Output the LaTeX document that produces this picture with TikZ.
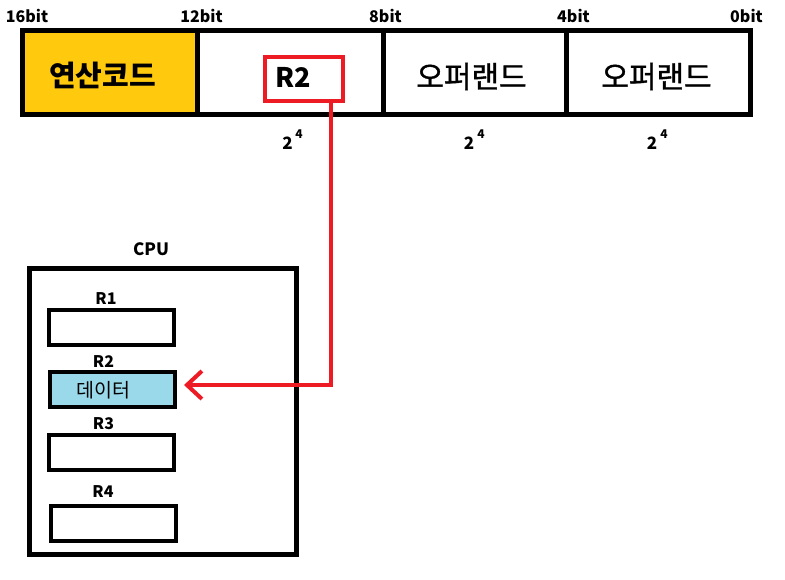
\documentclass[tikz,border=0pt]{standalone}
\usepackage{fontspec}
\setmainfont{Noto Sans CJK KR}
\newfontfamily\heavierkr[FakeBold=1.2]{Noto Sans CJK KR}
\usetikzlibrary{arrows.meta}
\definecolor{opyellow}{HTML}{FFC90E}
\definecolor{regblue}{HTML}{99D9EA}
\definecolor{linkred}{HTML}{ED1C24}
\begin{document}
\begin{tikzpicture}[x=1pt,y=-1pt,
  field/.style={draw=black,line width=5pt,minimum width=#1,minimum height=83.5pt,inner sep=0pt},
  reg/.style={draw=black,line width=4pt,minimum width=125pt,minimum height=35pt,inner sep=0pt},
  bitlbl/.style={font=\fontsize{16}{16}\selectfont\bfseries,inner sep=0pt},
  reglbl/.style={font=\fontsize{16}{16}\selectfont\bfseries,inner sep=0pt},
  bigtxt/.style={font=\fontsize{30}{30}\selectfont\heavierkr,inner sep=0pt},
  twolbl/.style={font=\fontsize{17}{17}\selectfont\bfseries,inner sep=0pt},
  fourlbl/.style={font=\fontsize{12}{12}\selectfont\bfseries,inner sep=0pt}]
\useasboundingbox (0,0) rectangle (785,580);
% instruction bar
\node[field=174.5pt,fill=opyellow] (f1) at (109.75,72.75) {};
\node[field=186pt] (f2) at (290,72.75) {};
\node[field=183.5pt] (f3) at (474.75,72.75) {};
\node[field=183.5pt] (f4) at (658.25,72.75) {};
\node[inner sep=0pt,font=\fontsize{29}{29}\selectfont\bfseries] (t1) at (102.5,75.5) {연산코드};
\node[draw=linkred,line width=4pt,minimum width=78pt,minimum height=44pt,inner sep=0pt] (rbox) at (304,79) {};
\node[inner sep=0pt,font=\fontsize{27}{27}\selectfont\bfseries] (t2) at (293.5,77.5) {R2};
\node[bigtxt] (t3) at (471.5,76.5) {오퍼랜드};
\node[bigtxt] (t4) at (656.5,76.5) {오퍼랜드};
% bit labels
\node[bitlbl] (b16) at (27,15.5) {16bit};
\node[bitlbl] (b12) at (201.5,15.5) {12bit};
\node[bitlbl] (b8) at (385.5,15.5) {8bit};
\node[bitlbl] (b4) at (573.5,15.5) {4bit};
\node[bitlbl] (b0) at (746.5,15.5) {0bit};
% 2^4 labels
\node[twolbl] (p1) at (287.5,143.5) {2};
\node[fourlbl] (e1) at (299,134) {4};
\node[twolbl] (p2) at (469,143.5) {2};
\node[fourlbl] (e2) at (481,134) {4};
\node[twolbl] (p3) at (652,143.5) {2};
\node[fourlbl] (e3) at (664,134) {4};
% CPU
\node[draw=black,line width=5pt,minimum width=267pt,minimum height=285.5pt,inner sep=0pt] (cpu) at (163,411.25) {};
\node[font=\fontsize{17}{17}\selectfont\bfseries,inner sep=0pt] (cpulbl) at (151,249.5) {CPU};
\node[reg] (r1) at (111.25,327.5) {};
\node[reg,fill=regblue] (r2) at (112,389.75) {};
\node[reg] (r3) at (111.85,452.85) {};
\node[reg] (r4) at (113.8,523.5) {};
\node[reglbl] (l1) at (106,299) {R1};
\node[reglbl] (l2) at (103.5,361.5) {R2};
\node[reglbl] (l3) at (103.5,424) {R3};
\node[reglbl] (l4) at (103,492) {R4};
\node[font=\fontsize{19.5}{19.5}\selectfont,inner sep=0pt] (data) at (103.5,390) {데이터};
% connector
\draw[linkred,line width=4pt,-{Straight Barb[length=15pt,width=28pt]}]
  ([xshift=26.5pt]rbox.south) |- ([xshift=7.5pt,yshift=4.75pt]r2.east);
\end{tikzpicture}
\end{document}
